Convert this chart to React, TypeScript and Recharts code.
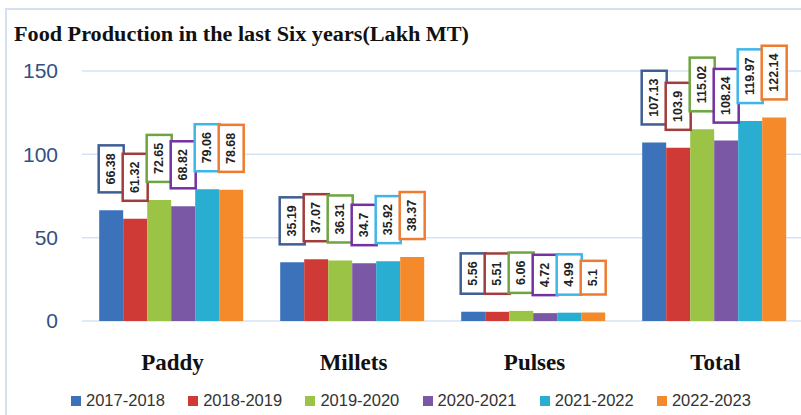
import React from 'react';
import { BarChart, Bar, XAxis, YAxis, CartesianGrid, Legend } from 'recharts';

const categories = ['Paddy', 'Millets', 'Pulses', 'Total'];
const years = ['2017-2018', '2018-2019', '2019-2020', '2020-2021', '2021-2022', '2022-2023'];
const v2017 = [66.38, 35.19, 5.56, 107.13];
const v2018 = [61.32, 37.07, 5.51, 103.9];
const v2019 = [72.65, 36.31, 6.06, 115.02];
const v2020 = [68.82, 34.7, 4.72, 108.24];
const v2021 = [79.06, 35.92, 4.99, 119.97];
const v2022 = [78.68, 38.37, 5.1, 122.14];
const yTicks = [0, 50, 100, 150];

const seriesValues = [v2017, v2018, v2019, v2020, v2021, v2022];
const barColors = ['#3B72BA', '#D03A36', '#9BC447', '#7B58A6', '#29ADD0', '#F58A2A'];
const boxColors = ['#3E5F95', '#A13D3C', '#6EA540', '#7431A1', '#3DB6EA', '#EE7B30'];

const data = categories.map((c, i) => {
  const row: Record<string, any> = { name: c };
  years.forEach((y, j) => {
    row[y] = seriesValues[j][i];
  });
  return row;
});

const textWidth = (s: string) => {
  let w = 0;
  for (const ch of s) w += ch === '.' ? 3.34 : 6.67;
  return w;
};

const BoxLabel = (props: any) => {
  const { x, y, width, value, stroke } = props;
  if (value === undefined || value === null) return null;
  const s = String(value);
  const h = textWidth(s) + 17;
  const w = 25;
  const cx = Number(x) + Number(width) / 2;
  const bottom = Number(y) - 18;
  const cy = bottom - h / 2;
  return (
    <g>
      <rect x={cx - w / 2} y={bottom - h} width={w} height={h} fill="#fff" stroke={stroke} strokeWidth={2.5} />
      <text
        x={cx}
        y={cy}
        transform={`rotate(-90 ${cx} ${cy})`}
        textAnchor="middle"
        dominantBaseline="central"
        fontFamily="'Liberation Sans', Arial, sans-serif"
        fontWeight="bold"
        fontSize={12.5}
        fill="#222"
      >
        {s}
      </text>
    </g>
  );
};

const LegendContent = () => (
  <div style={{ display: 'flex', flexDirection: 'row' }}>
    {years.map((y, i) => (
      <div key={y} style={{ width: 117.2, display: 'flex', alignItems: 'center' }}>
        <span style={{ display: 'inline-block', width: 10, height: 10, background: barColors[i], marginRight: 5 }} />
        <span
          style={{
            fontFamily: "'Liberation Sans', Arial, sans-serif",
            fontSize: 16.5,
            color: '#333',
            lineHeight: '19px',
          }}
        >
          {y}
        </span>
      </div>
    ))}
  </div>
);

export default function App() {
  return (
    <div
      style={{
        position: 'absolute',
        left: 0,
        top: 0,
        width: 801,
        height: 415,
        overflow: 'hidden',
        background: '#fff',
      }}
    >
      <div
        style={{
          position: 'absolute',
          left: 5,
          top: 8,
          width: 800,
          height: 410,
          borderLeft: '2px solid #D3E0F1',
          borderTop: '2px solid #D3E0F1',
        }}
      />
      <svg style={{ position: 'absolute', left: 0, top: 0 }} width={801} height={60}>
        <text
          x={14}
          y={41}
          textLength={455}
          lengthAdjust="spacingAndGlyphs"
          fontFamily="'Liberation Serif', 'Times New Roman', serif"
          fontWeight="bold"
          fontSize={20}
          fill="#111"
        >
          Food Production in the last Six years(Lakh MT)
        </text>
      </svg>
      <div style={{ position: 'absolute', left: 0, top: 0 }}>
        <BarChart
          width={810}
          height={415}
          data={data}
          margin={{ top: 71, right: 4, bottom: 54, left: 0 }}
          barGap={0}
          barCategoryGap="9.5%"
        >
          <CartesianGrid vertical={false} stroke="#D6E3F3" strokeWidth={1.5} />
          <XAxis
            dataKey="name"
            axisLine={false}
            tickLine={false}
            height={40}
            tickMargin={27}
            tick={{
              fontFamily: "'Liberation Serif', 'Times New Roman', serif",
              fontWeight: 'bold',
              fontSize: 23,
              fill: '#111',
            }}
          />
          <YAxis
            domain={[0, 150]}
            ticks={yTicks}
            axisLine={false}
            tickLine={false}
            width={82}
            tickMargin={18}
            tick={{ fontFamily: "'Liberation Sans', Arial, sans-serif", fontSize: 21, fill: '#34507F' }}
          />
          <Legend
            layout="horizontal"
            verticalAlign="middle"
            align="center"
            wrapperStyle={{ top: 391, left: 71, width: 730 }}
            content={<LegendContent />}
          />
          {years.map((y, i) => (
            <Bar
              key={y}
              dataKey={y}
              fill={barColors[i]}
              isAnimationActive={false}
              label={(p: any) => <BoxLabel {...p} stroke={boxColors[i]} />}
            />
          ))}
        </BarChart>
      </div>
    </div>
  );
}
